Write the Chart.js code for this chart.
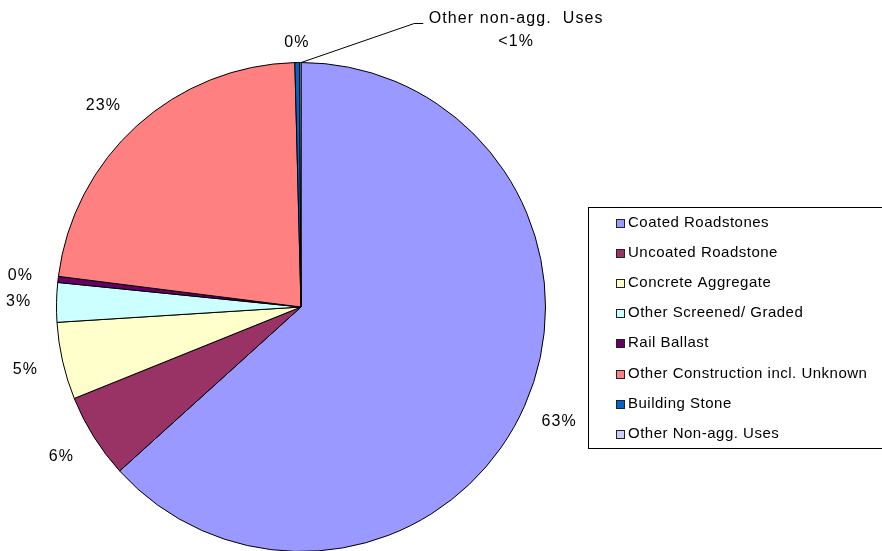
<!DOCTYPE html>
<html lang="en">
<head>
  <meta charset="UTF-8">
  <title>Aggregate Uses Pie</title>
  <script src="https://cdn.jsdelivr.net/npm/chart.js"></script>
  <style>
    html, body { margin: 0; padding: 0; background: #fff; overflow: hidden; }
    #wrap { position: relative; width: 882px; height: 600px; }
  </style>
</head>
<body>
  <div id="wrap"><canvas id="pie" width="882" height="600"></canvas></div>

  <script>
    // data (percent of total)
    const categories = [
      'Coated Roadstones',
      'Uncoated Roadstone',
      'Concrete Aggregate',
      'Other Screened/ Graded',
      'Rail Ballast',
      'Other Construction incl. Unknown',
      'Building Stone',
      'Other Non-agg. Uses'
    ];
    const shares = [63.3, 5.6, 5.1, 2.6, 0.4, 22.6, 0.3, 0.1];
    const sliceColors = ['#9999FF', '#993366', '#FFFFCC', '#CCFFFF', '#660066', '#FF8080', '#0066CC', '#CCCCFF'];
    const calloutText = ['Other non-agg.  Uses', '<1%'];

    const FONT = '"Liberation Sans", Arial, sans-serif';

    // percent labels outside the slices
    const labelPlugin = {
      id: 'pctLabels',
      afterDatasetsDraw(chart) {
        const ctx = chart.ctx;
        const meta = chart.getDatasetMeta(0);
        const total = shares.reduce((a, b) => a + b, 0);
        ctx.save();
        ctx.font = '16px ' + FONT;
        ctx.letterSpacing = '1.1px';
        ctx.fillStyle = '#000';
        ctx.textAlign = 'center';
        ctx.textBaseline = 'middle';
        meta.data.forEach((arc, i) => {
          const p = arc.getProps(['x', 'y', 'startAngle', 'endAngle', 'outerRadius']);
          const mid = (p.startAngle + p.endAngle) / 2;
          if (i === shares.length - 1) {
            // callout with leader line
            const ax = p.x + Math.cos(mid) * p.outerRadius;
            const ay = p.y + Math.sin(mid) * p.outerRadius;
            ctx.strokeStyle = '#000';
            ctx.lineWidth = 1;
            ctx.beginPath();
            ctx.moveTo(ax + 1, ay);
            ctx.lineTo(ax + 114, ay - 39);
            ctx.lineTo(ax + 123, ay - 39);
            ctx.stroke();
            ctx.fillText(calloutText[0], ax + 216, ay - 44);
            ctx.fillText(calloutText[1], ax + 216, ay - 21);
            return;
          }
          let dist = p.outerRadius + 38;
          if (i === 6) dist = p.outerRadius + 20;
          let ang = mid;
          if (i === 5) ang = mid - 0.04;
          const pct = Math.round(shares[i] / total * 100) + '%';
          ctx.fillText(pct, p.x + Math.cos(ang) * dist, p.y + Math.sin(ang) * dist);
        });
        ctx.restore();
      }
    };

    // boxed legend on the right
    const legendPlugin = {
      id: 'boxLegend',
      afterDraw(chart) {
        const ctx = chart.ctx;
        ctx.save();
        ctx.strokeStyle = '#000';
        ctx.lineWidth = 1;
        ctx.fillStyle = '#fff';
        ctx.fillRect(588.5, 207.5, 300, 241);
        ctx.strokeRect(588.5, 207.5, 300, 241);
        ctx.font = '15px ' + FONT;
        ctx.letterSpacing = '0.5px';
        ctx.textBaseline = 'middle';
        ctx.textAlign = 'left';
        categories.forEach((name, i) => {
          const y = 222.5 + i * 30.2;
          const sy = Math.round(y - 4) + 0.5;
          ctx.fillStyle = sliceColors[i];
          ctx.fillRect(616.5, sy, 8, 8);
          ctx.strokeStyle = '#222';
          ctx.strokeRect(616.5, sy, 8, 8);
          ctx.fillStyle = '#000';
          ctx.fillText(name, 628, y);
        });
        ctx.restore();
      }
    };

    new Chart(document.getElementById('pie'), {
      type: 'pie',
      data: {
        labels: categories,
        datasets: [{
          data: shares,
          backgroundColor: sliceColors,
          borderColor: '#000',
          borderWidth: 1
        }]
      },
      options: {
        responsive: false,
        animation: false,
        devicePixelRatio: 1,
        layout: { padding: { left: 56, right: 336, top: 62, bottom: 48 } },
        plugins: {
          legend: { display: false },
          tooltip: { enabled: false }
        }
      },
      plugins: [labelPlugin, legendPlugin]
    });
  </script>
</body>
</html>
